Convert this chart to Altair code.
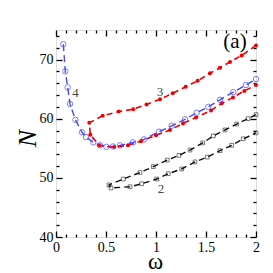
import altair as alt
import pandas as pd

# ---- data ----
# curve 4 (blue, open circles)
blue_w = [0.073, 0.093, 0.117, 0.14, 0.195, 0.26, 0.30, 0.373, 0.44, 0.505, 0.57, 0.64, 0.77,
          0.88, 1.03, 1.157, 1.29, 1.407, 1.523, 1.64, 1.773, 1.90, 2.0]
blue_n = [72.6, 68.0, 65.3, 62.5, 59.8, 57.7, 56.9, 56.0, 55.5, 55.25, 55.3, 55.5, 56.0,
          56.5, 57.8, 58.8, 59.9, 61.0, 62.0, 63.2, 64.5, 65.7, 66.7]

# curve 3 (red, filled dots) upper and lower branch, each from the fold to omega = 2
red_up_w = [0.333, 0.467, 0.627, 0.773, 0.905, 1.04, 1.167, 1.297, 1.417, 1.54, 1.64, 1.74, 1.857, 2.0]
red_up_n = [59.3, 60.5, 61.2, 61.6, 62.4, 63.3, 64.3, 65.4, 66.4, 67.7, 68.6, 69.6, 70.7, 72.4]
red_lo_w = [0.343, 0.433, 0.583, 0.72, 0.85, 1.0, 1.14, 1.27, 1.40, 1.55, 1.657, 1.77, 1.883, 2.0]
red_lo_n = [57.3, 55.5, 55.2, 55.5, 56.2, 57.2, 58.1, 59.2, 60.2, 61.4, 62.6, 63.6, 64.7, 65.7]

# curve 2 (black, open squares)
blk_up_w = [0.53, 0.673, 0.84, 0.973, 1.113, 1.23, 1.34, 1.467, 1.573, 1.69, 1.807, 1.92, 2.0]
blk_up_n = [48.8, 49.8, 50.9, 51.9, 53.0, 53.8, 54.7, 55.9, 57.1, 58.1, 59.1, 60.0, 60.7]
blk_lo_w = [0.55, 0.74, 0.857, 1.007, 1.123, 1.257, 1.39, 1.513, 1.64, 1.757, 1.873, 2.0]
blk_lo_n = [48.3, 48.5, 49.0, 49.8, 50.7, 51.5, 52.7, 53.5, 54.6, 55.5, 56.6, 57.6]

curve_labels = ["4", "3", "2"]
curve_label_w = [0.195, 1.04, 1.05]
curve_label_n = [64.3, 64.6, 48.2]
panel_label = ["(a)"]
panel_label_w = [1.79]
panel_label_n = [72.9]

x_major = [0, 0.5, 1, 1.5, 2]
x_minor = [0.1, 0.2, 0.3, 0.4, 0.6, 0.7, 0.8, 0.9, 1.1, 1.2, 1.3, 1.4, 1.6, 1.7, 1.8, 1.9]
y_major = [40, 50, 60, 70]
y_minor = [42, 44, 46, 48, 52, 54, 56, 58, 62, 64, 66, 68, 72, 74]


def path(uw, un, lw, ln):
    w = uw[::-1] + lw
    n = un[::-1] + ln
    return pd.DataFrame({"w": w, "n": n, "i": list(range(len(w)))})


blue_df = pd.DataFrame({"w": blue_w, "n": blue_n, "i": list(range(len(blue_w)))})
red_df = path(red_up_w, red_up_n, red_lo_w, red_lo_n)
blk_df = path(blk_up_w, blk_up_n, blk_lo_w, blk_lo_n)
lab_df = pd.DataFrame({"w": curve_label_w, "n": curve_label_n, "t": curve_labels})
pan_df = pd.DataFrame({"w": panel_label_w, "n": panel_label_n, "t": panel_label})

FONT = "Liberation Serif"
xs = alt.Scale(domain=[0, 2], nice=False, zero=False)
ys = alt.Scale(domain=[40, 75], nice=False, zero=False)

main_x_axis = alt.Axis(values=x_major, format="~g", ticks=False, tickSize=0, domain=False,
                       grid=False, labelFont=FONT, labelFontSize=14, labelColor="black",
                       labelPadding=3, labelFlush=False, labelOverlap=False,
                       title="ω", titleFont=FONT, titleFontSize=23, titleFontWeight="normal",
                       titleColor="black", titleX=99, titleY=31, titleBaseline="alphabetic",
                       titleAlign="center")
main_y_axis = alt.Axis(values=y_major, ticks=False, tickSize=0, domain=False, grid=False,
                       labelFont=FONT, labelFontSize=14, labelColor="black", labelPadding=3,
                       labelFlush=False, labelOverlap=False,
                       title="N", titleFont=FONT, titleFontSize=26, titleFontStyle="italic",
                       titleFontWeight="normal", titleColor="black", titleAngle=270,
                       titleX=-21, titleY=108, titleBaseline="alphabetic", titleAlign="center")


def tick_axis(orient, values, size):
    return alt.Axis(orient=orient, values=values, tickSize=size, offset=-size, labels=False,
                    domain=False, grid=False, title=None, ticks=True, tickColor="black",
                    tickWidth=1.3)


def tick_layer(xorient, yorient, xv, yv, size):
    return alt.Chart(blue_df).mark_point(opacity=0).encode(
        x=alt.X("w:Q", scale=xs, axis=tick_axis(xorient, xv, size)),
        y=alt.Y("n:Q", scale=ys, axis=tick_axis(yorient, yv, size)),
    )


def xq(axis=None):
    return alt.X("w:Q", scale=xs, axis=axis)


def yq(axis=None):
    return alt.Y("n:Q", scale=ys, axis=axis)


BLUE = "#4646ff"
RED = "#ee0000"
BLACK = "#111111"

base_layer = alt.Chart(blue_df).mark_line(color=BLUE, strokeWidth=1.4, strokeDash=[7, 4]).encode(
    x=xq(main_x_axis), y=yq(main_y_axis), order="i:Q")
blue_pts = alt.Chart(blue_df).mark_point(color=BLUE, shape="circle", size=30, filled=False,
                                         strokeWidth=1).encode(x=xq(), y=yq())
red_line = alt.Chart(red_df).mark_line(color=RED, strokeWidth=1.6, strokeDash=[6, 4]).encode(
    x=xq(), y=yq(), order="i:Q")
red_pts = alt.Chart(red_df).mark_point(color=RED, shape="circle", size=16, filled=True,
                                       opacity=1).encode(x=xq(), y=yq())
blk_line = alt.Chart(blk_df).mark_line(color=BLACK, strokeWidth=1.4, strokeDash=[6, 4]).encode(
    x=xq(), y=yq(), order="i:Q")
blk_pts = alt.Chart(blk_df).mark_point(color=BLACK, shape="square", size=14, filled=False,
                                       strokeWidth=0.8).encode(x=xq(), y=yq())
labels = alt.Chart(lab_df).mark_text(font=FONT, fontSize=13, color="#444444").encode(
    x=xq(), y=yq(), text="t:N")
panel = alt.Chart(pan_df).mark_text(font=FONT, fontSize=21, color="black").encode(
    x=xq(), y=yq(), text="t:N")

chart = alt.layer(
    base_layer, blk_line, blk_pts, red_line, red_pts, blue_pts, labels, panel,
    tick_layer("bottom", "left", x_major, y_major, 6),
    tick_layer("bottom", "left", x_minor, y_minor, 3),
    tick_layer("top", "right", x_major, y_major, 6),
    tick_layer("top", "right", x_minor, y_minor, 3),
).resolve_axis(x="independent", y="independent").properties(
    width=200, height=207,
    autosize=alt.AutoSizeParams(type="none"),
    padding={"left": 48, "top": 22, "right": 9, "bottom": 36},
).configure_view(stroke="black", strokeWidth=1.8).configure(background="white")

chart.save("out.html", embed_options={"renderer": "svg", "actions": False})
